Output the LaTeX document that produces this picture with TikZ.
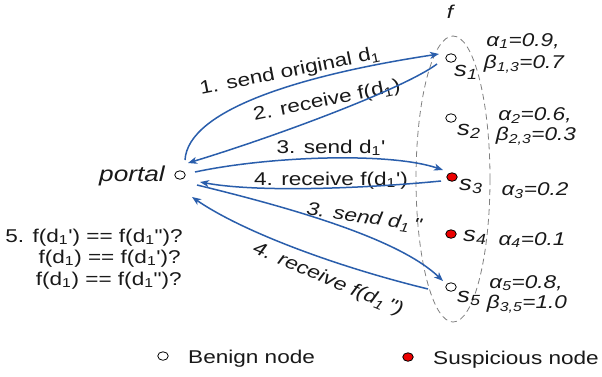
\documentclass[tikz,border=0pt]{standalone}
\usepackage{fontspec}
\usepackage{graphicx}
\newfontfamily\lib{Liberation Sans}
\usetikzlibrary{arrows.meta,shapes.geometric,calc}
\definecolor{arrowblue}{RGB}{42,94,172}
\definecolor{txt}{RGB}{25,25,25}
\definecolor{sred}{RGB}{235,0,0}
\newcommand\sx[1]{\scalebox{1.22}[1]{#1}}
\newcommand\sr[2]{\rotatebox{#1}{\scalebox{1.22}[1]{#2}}}
\begin{document}
\begin{tikzpicture}[x=1pt,y=-1pt,
  lbl/.style={text=txt,font=\lib\fontsize{18.5}{22}\selectfont, inner sep=0pt},
  ital/.style={text=txt,font=\lib\itshape\fontsize{18.5}{22}\selectfont, inner sep=0pt},
  slbl/.style={text=txt,font=\lib\itshape\fontsize{21}{24}\selectfont, inner sep=0pt},
  vtx/.style={ellipse, draw=black, line width=0.8pt, fill=white, minimum width=10.5pt, minimum height=8.5pt, inner sep=0pt},
  susp/.style={vtx, fill=sred},
  flow/.style={draw=arrowblue, line width=1.5pt, -{Stealth[length=9pt,width=7pt,inset=2.5pt]}},
]
\useasboundingbox (0,0) rectangle (602,376);
\fill[white] (0,0) rectangle (602,376);

% set boundary
\draw[gray, line width=0.8pt, dash pattern=on 6pt off 4pt] (453,179) ellipse [x radius=37, y radius=143];
\node[ital, anchor=base] (f) at (450,18) {\sx{f}};

% vertices
\node[vtx] (portal) at (180,175) {};
\node[vtx] (s1) at (451,58) {};
\node[vtx] (s2) at (451,118) {};
\node[susp] (s3) at (452,177) {};
\node[susp] (s4) at (451,234) {};
\node[vtx] (s5) at (451,287) {};

\node[text=txt,font=\lib\itshape\fontsize{21.5}{24}\selectfont, inner sep=0pt, anchor=east] (portaltxt) at (165,176) {\sx{portal}};

\node[slbl, anchor=base west] (s1t) at (454,76) {\sx{s\textsubscript{1}}};
\node[slbl, anchor=base west] (s2t) at (457,135) {\sx{s\textsubscript{2}}};
\node[slbl, anchor=base west] (s3t) at (459,190) {\sx{s\textsubscript{3}}};
\node[slbl, anchor=base west] (s4t) at (463,241) {\sx{s\textsubscript{4}}};
\node[slbl, anchor=base west] (s5t) at (457,302) {\sx{s\textsubscript{5}}};

% parameters
\node[ital, anchor=base] (a1) at (523,46) {\sx{α\textsubscript{1}=0.9,}};
\node[ital, anchor=base] (b1) at (524,68) {\sx{β\textsubscript{1,3}=0.7}};
\node[ital, anchor=base] (a2) at (535,120) {\sx{α\textsubscript{2}=0.6,}};
\node[ital, anchor=base] (b2) at (536,140) {\sx{β\textsubscript{2,3}=0.3}};
\node[ital, anchor=base] (a3) at (535,195) {\sx{α\textsubscript{3}=0.2}};
\node[ital, anchor=base] (a4) at (532,245) {\sx{α\textsubscript{4}=0.1}};
\node[ital, anchor=base] (a5) at (526,288) {\sx{α\textsubscript{5}=0.8,}};
\node[ital, anchor=base] (b5) at (527,308) {\sx{β\textsubscript{3,5}=1.0}};

% checks
\node[lbl, anchor=base east] (q1) at (183,242) {\sx{5. f(d\textsubscript{1}') == f(d\textsubscript{1}")?}};
\node[lbl, anchor=base east] (q2) at (181,263) {\sx{f(d\textsubscript{1}) == f(d\textsubscript{1}')?}};
\node[lbl, anchor=base east] (q3) at (182,285) {\sx{f(d\textsubscript{1}) == f(d\textsubscript{1}")?}};

% legend
\node[vtx] (lb) at (163,356) {};
\node[lbl, anchor=base west] (lbt) at (188,363) {\sx{Benign node}};
\node[susp] (ls) at (408,357) {};
\node[lbl, anchor=base west] (lst) at (433,364) {\sx{Suspicious node}};

% arrow labels
\node[lbl] (l1) at (290,72) {\sr{11.5}{1. send original d\textsubscript{1}}};
\node[lbl] (l2) at (327,101) {\sr{11.5}{2. receive f(d\textsubscript{1})}};
\node[lbl, anchor=base] (l3) at (331,153) {\sx{3. send d\textsubscript{1}'}};
\node[lbl, anchor=base] (l4) at (331,185) {\sx{4. receive f(d\textsubscript{1}')}};
\node[ital] (l5) at (364,218) {\sr{-8.5}{3. send d\textsubscript{1}\,"}};
\node[ital] (l6) at (328,280) {\sr{-23}{4. receive f(d\textsubscript{1}\,")}};

% connectors
\draw[flow] ($(portal)+(5,-15)$) .. controls (188,110) and (300,75) .. ($(s1)+(-12,-4)$);
\draw[flow] ($(s1)+(-14,6)$) .. controls (405,88) and (280,135) .. ($(portal)+(8,-12)$);
\draw[flow] ($(portal)+(15,-3)$) .. controls (270,156) and (390,152) .. ($(s3)+(-9,-7)$);
\draw[flow] ($(s3)+(-11,4)$) .. controls (370,188) and (260,193) .. ($(portal)+(20,7)$);
\draw[flow] ($(portal)+(17,10)$) .. controls (300,210) and (400,240) .. ($(s5)+(-8,-6)$);
\draw[flow] ($(s5)+(-23,2)$) .. controls (330,265) and (240,230) .. ($(portal)+(12,22)$);
\end{tikzpicture}
\end{document}
